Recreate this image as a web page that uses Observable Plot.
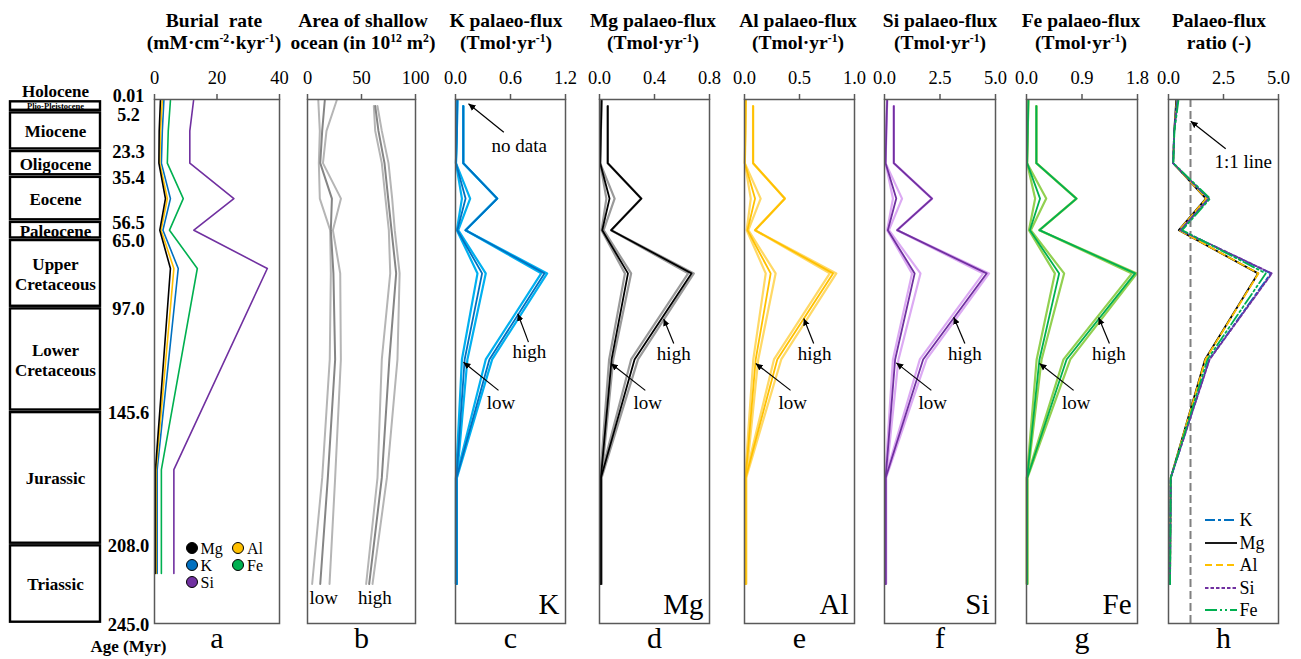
<!DOCTYPE html>
<html>
<head>
<meta charset="utf-8">
<script src="https://cdn.jsdelivr.net/npm/d3@7"></script>
<script src="https://cdn.jsdelivr.net/npm/@observablehq/plot@0.6"></script>
<style>
  body { margin: 0; background: #fff; }
  #chart { position: relative; width: 1301px; height: 659px; overflow: hidden; background: #fff;
           font-family: "Liberation Serif", Tinos, "DejaVu Serif", "Noto Serif", "Times New Roman", Times, serif; color: #000; }
  #chart > svg { position: absolute; top: 0; overflow: visible; }
  .title { position: absolute; top: 10px; width: 240px; text-align: center; font-weight: bold;
           font-size: 19.5px; line-height: 22px; white-space: nowrap; }
  .title sup { font-size: 0.6em; line-height: 0; vertical-align: 0.6em; }
  #legA { position: absolute; left: 185.5px; top: 539.5px; display: grid;
          grid-template-columns: 46.5px 46.5px; font-size: 16px; line-height: 17px; }
  #legA .it { display: flex; align-items: center; white-space: nowrap; height: 17px; }
  #legA .dot { display: inline-block; width: 10px; height: 10px; border-radius: 50%;
               border: 1px solid #000; margin-right: 3px; }
  #legH { position: absolute; left: 1204.5px; top: 509px; font-size: 18px; line-height: 22.5px; }
  #legH .it { display: flex; align-items: center; white-space: nowrap; height: 22.5px; }
  #legH svg { margin-right: 3px; }
</style>
</head>
<body>
<div id="chart"></div>
<script>
// ---------------- data ----------------
// geological time scale (Myr)
const epochNames = ["Plio-Pleistocene", "Miocene", "Oligocene", "Eocene", "Paleocene",
                    "Upper\nCretaceous", "Lower\nCretaceous", "Jurassic", "Triassic"];
const epochStart = [0.01, 5.2, 23.3, 35.4, 56.5, 65.0, 97.0, 145.6, 208.0];
const epochEnd   = [5.2, 23.3, 35.4, 56.5, 65.0, 97.0, 145.6, 208.0, 245.0];
const boundaryAges   = [0.01, 5.2, 23.3, 35.4, 56.5, 65.0, 97.0, 145.6, 208.0, 245.0];
const boundaryLabels = ["0.01", "5.2", "23.3", "35.4", "56.5", "65.0", "97.0", "145.6", "208.0", "245.0"];

// element series
const elements = ["K", "Mg", "Al", "Si", "Fe"];
const elementDark  = ["#0070C0", "#000000", "#FFC000", "#7030A0", "#00B050"];
const elementLight = ["#00B0F0", "#9a9a9a", "#FFD966", "#DCAAF3", "#92D050"];

// panel a: burial rate (mM cm-2 kyr-1)
const burialAges = [0.01, 14.25, 29.35, 45.95, 60.75, 78.7, 172.9, 221.6];
const burialMg = [1.9, 1.5, 1.4, 3.5, 1.7, 5.1, 0.3, 0.3];
const burialAl = [2.5, 1.9, 1.7, 4.1, 2.1, 6.2, 0.5, 0.5];
const burialK  = [3.0, 2.5, 2.2, 5.1, 2.7, 7.6, 0.85, 0.85];
const burialFe = [5.1, 4.4, 4.1, 9.2, 4.8, 13.7, 2.2, 2.2];
const burialSi = [12.5, 11.3, 11.3, 25.4, 12.6, 36.1, 6.2, 6.2];

// ages of the low / high scenario points (panels b-h)
const agesLow  = [0.01, 14.25, 29.35, 45.95, 60.75, 81.0, 121.3, 176.8, 226.5];
const agesHigh = [2.6, 14.25, 29.35, 45.95, 60.75, 81.0, 121.3, 176.8, 226.5];

// panel b: area of shallow ocean (10^12 m2)
const areaLowMin  = [10, 11.4, 10.5, 11.4, 21, 21.6, 20.6, 13.6, 4.3];
const areaLowMid  = [16, 13.6, 11.8, 22.6, 21.6, 24, 25.6, 18.8, 11.8];
const areaLowMax  = [27, 17.6, 14.3, 31, 23.5, 30.3, 30.9, 25.6, 20.4];
const areaHighMin = [61.4, 62.7, 68.8, 72.2, 75.3, 76.6, 68.8, 64.8, 54.3];
const areaHighMid = [62.7, 65.7, 71.3, 74.7, 77.8, 82.1, 75.8, 68.8, 57.1];
const areaHighMax = [64.8, 68.8, 75, 78.4, 80.8, 85.3, 83.3, 73.5, 60.2];

// panels c-g: palaeo-fluxes (Tmol yr-1)
const kLowMin  = [0.02, 0.015, 0.005, 0.07, 0.015, 0.24, 0.07, 0.005, 0.005];
const kLowMid  = [0.02, 0.015, 0.005, 0.11, 0.02, 0.29, 0.10, 0.01, 0.01];
const kLowMax  = [0.02, 0.015, 0.005, 0.16, 0.03, 0.33, 0.13, 0.015, 0.015];
const kHighMin = [0.085, 0.085, 0.085, 0.455, 0.11, 0.935, 0.33, 0.005, 0.005];
const kHighMid = [0.085, 0.085, 0.085, 0.455, 0.11, 0.97, 0.37, 0.01, 0.01];
const kHighMax = [0.085, 0.085, 0.085, 0.455, 0.11, 1.0, 0.40, 0.015, 0.015];

const mgLowMin  = [0.015, 0.01, 0.005, 0.05, 0.015, 0.185, 0.07, 0.005, 0.005];
const mgLowMid  = [0.015, 0.01, 0.005, 0.073, 0.02, 0.207, 0.088, 0.01, 0.01];
const mgLowMax  = [0.015, 0.01, 0.005, 0.11, 0.03, 0.23, 0.10, 0.015, 0.015];
const mgHighMin = [0.06, 0.06, 0.06, 0.304, 0.085, 0.645, 0.23, 0.005, 0.005];
const mgHighMid = [0.06, 0.06, 0.06, 0.304, 0.085, 0.669, 0.255, 0.01, 0.01];
const mgHighMax = [0.06, 0.06, 0.06, 0.304, 0.085, 0.686, 0.28, 0.015, 0.015];

const alLowMin  = [0.012, 0.008, 0.003, 0.057, 0.02, 0.193, 0.08, 0.005, 0.005];
const alLowMid  = [0.012, 0.008, 0.003, 0.096, 0.027, 0.238, 0.102, 0.01, 0.01];
const alLowMax  = [0.012, 0.008, 0.003, 0.147, 0.035, 0.283, 0.125, 0.015, 0.015];
const alHighMin = [0.078, 0.078, 0.078, 0.367, 0.096, 0.775, 0.268, 0.005, 0.005];
const alHighMid = [0.078, 0.078, 0.078, 0.367, 0.096, 0.805, 0.298, 0.01, 0.01];
const alHighMax = [0.078, 0.078, 0.078, 0.367, 0.096, 0.835, 0.334, 0.015, 0.015];

const siLowMin  = [0.12, 0.08, 0.05, 0.38, 0.12, 1.24, 0.38, 0.03, 0.03];
const siLowMid  = [0.12, 0.08, 0.05, 0.53, 0.15, 1.36, 0.48, 0.05, 0.05];
const siLowMax  = [0.12, 0.08, 0.05, 0.79, 0.20, 1.62, 0.63, 0.07, 0.07];
const siHighMin = [0.42, 0.42, 0.42, 2.14, 0.57, 4.45, 1.59, 0.03, 0.03];
const siHighMid = [0.42, 0.42, 0.42, 2.14, 0.57, 4.60, 1.74, 0.05, 0.05];
const siHighMax = [0.42, 0.42, 0.42, 2.14, 0.57, 4.71, 1.89, 0.07, 0.07];

const feLowMin  = [0.03, 0.02, 0.01, 0.14, 0.04, 0.46, 0.165, 0.005, 0.005];
const feLowMid  = [0.03, 0.02, 0.01, 0.22, 0.055, 0.53, 0.21, 0.01, 0.01];
const feLowMax  = [0.03, 0.02, 0.01, 0.32, 0.07, 0.61, 0.245, 0.015, 0.015];
const feHighMin = [0.16, 0.16, 0.16, 0.81, 0.21, 1.71, 0.60, 0.005, 0.005];
const feHighMid = [0.16, 0.16, 0.16, 0.81, 0.21, 1.76, 0.65, 0.01, 0.01];
const feHighMax = [0.16, 0.16, 0.16, 0.81, 0.21, 1.79, 0.71, 0.015, 0.015];

// panel h: palaeo-flux ratio (-)
const ratioK  = [0.40, 0.26, 0.21, 1.82, 0.55, 4.65, 1.85, 0.10, 0.07];
const ratioMg = [0.35, 0.26, 0.21, 1.70, 0.47, 4.07, 1.66, 0.10, 0.07];
const ratioAl = [0.38, 0.26, 0.21, 1.72, 0.48, 4.09, 1.68, 0.10, 0.07];
const ratioSi = [0.42, 0.26, 0.21, 1.84, 0.55, 4.70, 1.87, 0.10, 0.07];
const ratioFe = [0.45, 0.27, 0.22, 1.89, 0.62, 4.42, 1.77, 0.10, 0.07];
const ratioDash = ["10,3,3,3", null, "7,4", "3.5,2", "12,3,2,3,2,3"];

// tick labels
const ticksA = [0, 20, 40], ticksB = [0, 50, 100], ticksC = [0, 0.6, 1.2], ticksD = [0, 0.4, 0.8];
const ticksE = [0, 0.5, 1.0], ticksF = [0, 2.5, 5.0], ticksG = [0, 0.9, 1.8], ticksH = [0, 2.5, 5.0];

// annotations (value, age)
const annArrows = {
  c: [{x1: 0.527, y1: 14.85, x2: 0.142, y2: 1.55}, {x1: 0.796, y1: 113.2, x2: 0.68, y2: 99.9}, {x1: 0.469, y1: 135.8, x2: 0.087, y2: 122.6}],
  d: [{x1: 0.54, y1: 113.8, x2: 0.467, y2: 102.3}, {x1: 0.333, y1: 135.8, x2: 0.083, y2: 123.2}],
  e: [{x1: 0.629, y1: 113.8, x2: 0.539, y2: 102.1}, {x1: 0.419, y1: 135.8, x2: 0.102, y2: 123.2}],
  f: [{x1: 3.62, y1: 113.8, x2: 3.12, y2: 101.5}, {x1: 2.11, y1: 135.8, x2: 0.53, y2: 122.9}],
  g: [{x1: 1.345, y1: 113.8, x2: 1.17, y2: 101.7}, {x1: 0.764, y1: 135.8, x2: 0.211, y2: 123.2}],
  h: [{x1: 2.6, y1: 22.6, x2: 1.01, y2: 9.7}]
};
const annTexts = {
  b: [{x: 15, y: 232.8, t: "low"}, {x: 62.4, y: 232.8, t: "high"}],
  c: [{x: 0.695, y: 21.5, t: "no data"}, {x: 0.806, y: 117.6, t: "high"}, {x: 0.496, y: 141.5, t: "low"}],
  d: [{x: 0.54, y: 118.5, t: "high"}, {x: 0.35, y: 141.5, t: "low"}],
  e: [{x: 0.637, y: 118.5, t: "high"}, {x: 0.438, y: 141.5, t: "low"}],
  f: [{x: 3.62, y: 118.5, t: "high"}, {x: 2.17, y: 141.5, t: "low"}],
  g: [{x: 1.337, y: 118.5, t: "high"}, {x: 0.805, y: 141.5, t: "low"}],
  h: [{x: 3.4, y: 29, t: "1:1 line"}]
};

// ---------------- drawing ----------------
const chart = document.getElementById("chart");
const FONT = '"Liberation Serif", Tinos, "DejaVu Serif", "Noto Serif", "Times New Roman", Times, serif';
const Y = {domain: [0, 245], range: [100, 623], axis: null};
const M = 32;

function rows(ages, vals) { return ages.map((age, i) => ({age, v: vals[i]})); }

function filledArrow(color, context) {
  const ns = "http://www.w3.org/2000/svg";
  const doc = (context && context.document) || document;
  const m = doc.createElementNS(ns, "marker");
  m.setAttribute("viewBox", "-7 -4 8 8");
  m.setAttribute("markerWidth", 8);
  m.setAttribute("markerHeight", 8);
  m.setAttribute("markerUnits", "userSpaceOnUse");
  m.setAttribute("orient", "auto");
  m.setAttribute("refX", 0);
  m.setAttribute("refY", 0);
  const p = doc.createElementNS(ns, "path");
  p.setAttribute("d", "M-7,-3.3L0,0L-7,3.3Z");
  p.setAttribute("fill", "#000");
  p.setAttribute("stroke", "none");
  m.appendChild(p);
  return m;
}

function makePanel(left, width, domain, ticks, fmt, marks, letter) {
  const svg = Plot.plot({
    width: width + 2 * M, height: 659,
    marginLeft: M, marginRight: M, marginTop: 99, marginBottom: 36,
    x: {domain},
    y: Y,
    style: {background: "transparent", overflow: "visible", fontFamily: FONT, fontSize: "18.5px", color: "#000"},
    marks: [
      ...marks,
      Plot.frame({stroke: "#595959", strokeWidth: 1.5}),
      Plot.axisX({anchor: "top", ticks, tickFormat: fmt, tickSize: 6, tickPadding: 10, label: null,
                  stroke: "#595959", strokeWidth: 1.5, fill: "#000", fontSize: 18.5}),
      Plot.text([letter], {text: d => d, frameAnchor: "bottom", dy: 15, lineAnchor: "middle", fontSize: 30})
    ]
  });
  svg.style.left = (left - M) + "px";
  chart.appendChild(svg);
}

function bundleMarks(idx, lowMin, lowMid, lowMax, highMin, highMid, highMax) {
  const light = elementLight[idx], dark = elementDark[idx];
  return [
    Plot.line(rows(agesLow, lowMin), {x: "v", y: "age", stroke: light, strokeWidth: 2.2}),
    Plot.line(rows(agesLow, lowMax), {x: "v", y: "age", stroke: light, strokeWidth: 2.2}),
    Plot.line(rows(agesHigh, highMin), {x: "v", y: "age", stroke: light, strokeWidth: 2.2}),
    Plot.line(rows(agesHigh, highMax), {x: "v", y: "age", stroke: light, strokeWidth: 2.2}),
    Plot.line(rows(agesLow, lowMid), {x: "v", y: "age", stroke: dark, strokeWidth: 1.8}),
    Plot.line(rows(agesHigh, highMid), {x: "v", y: "age", stroke: dark, strokeWidth: 1.8}),
    Plot.text([elements[idx]], {text: d => d, frameAnchor: "bottom-right", dx: -6, dy: -10, fontSize: 29})
  ];
}

function annMarks(key) {
  const out = [];
  if (annArrows[key]) out.push(Plot.link(annArrows[key], {x1: "x1", y1: "y1", x2: "x2", y2: "y2",
    stroke: "#000", strokeWidth: 1.2, markerEnd: filledArrow}));
  if (annTexts[key]) out.push(Plot.text(annTexts[key], {x: "x", y: "y", text: "t", fontSize: 19, lineAnchor: "middle"}));
  return out;
}

// ---- time scale column ----
const epochs = epochNames.map((name, i) => ({name, start: epochStart[i], end: epochEnd[i], mid: (epochStart[i] + epochEnd[i]) / 2}));
const bounds = boundaryAges.map((age, i) => ({age, label: boundaryLabels[i]}));
const ts = Plot.plot({
  width: 170, height: 659, marginLeft: 10, marginRight: 70, marginTop: 99, marginBottom: 36,
  x: {domain: [0, 1], axis: null},
  y: Y,
  style: {background: "transparent", overflow: "visible", fontFamily: FONT, color: "#000"},
  marks: [
    Plot.rect(epochs, {x1: 0, x2: 1, y1: "start", y2: "end", fill: "white", stroke: "#000", strokeWidth: 2.4, insetTop: 1.3, insetBottom: 1.3}),
    Plot.text(epochs.slice(1), {x: 0.5, y: "mid", text: "name", fontWeight: "bold", fontSize: 17, lineHeight: 1.18, lineAnchor: "middle"}),
    Plot.text(epochs.slice(0, 1), {x: 0.5, y: "mid", text: "name", fontWeight: "bold", fontSize: 8.5, lineAnchor: "middle"}),
    Plot.text(["Holocene"], {text: d => d, x: 0.5, y: 0.01, dy: -9, fontWeight: "bold", fontSize: 17, lineAnchor: "middle"}),
    Plot.text(bounds.slice(0, 1), {x: 1, dx: 28, y: "age", dy: -4, text: "label", fontWeight: "bold", fontSize: 18, lineAnchor: "middle"}),
    Plot.text(bounds.slice(1, 2), {x: 1, dx: 28, y: "age", dy: 4, text: "label", fontWeight: "bold", fontSize: 18, lineAnchor: "middle"}),
    Plot.text(bounds.slice(2), {x: 1, dx: 28, y: "age", dy: 2, text: "label", fontWeight: "bold", fontSize: 18.5, lineAnchor: "middle"}),
    Plot.text(["Age (Myr)"], {text: d => d, x: 1, dx: 28, y: 245, dy: 23, fontWeight: "bold", fontSize: 17, lineAnchor: "middle"})
  ]
});
ts.style.left = "0px";
chart.appendChild(ts);

// ---- panel a ----
const burialSeries = [["Si", burialSi], ["Fe", burialFe], ["K", burialK], ["Al", burialAl], ["Mg", burialMg]];
makePanel(154, 125, [0, 40], ticksA, d3.format("d"),
  burialSeries.map(([el, vals]) => Plot.line(rows(burialAges, vals),
    {x: "v", y: "age", stroke: elementDark[elements.indexOf(el)], strokeWidth: 1.6})), "a");

// ---- panel b ----
makePanel(307, 108, [0, 100], ticksB, d3.format("d"), [
  ...[areaLowMin, areaLowMax].map(v => Plot.line(rows(agesLow, v), {x: "v", y: "age", stroke: "#b5b5b5", strokeWidth: 2})),
  ...[areaHighMin, areaHighMax].map(v => Plot.line(rows(agesHigh, v), {x: "v", y: "age", stroke: "#b5b5b5", strokeWidth: 2})),
  Plot.line(rows(agesLow, areaLowMid), {x: "v", y: "age", stroke: "#858585", strokeWidth: 2}),
  Plot.line(rows(agesHigh, areaHighMid), {x: "v", y: "age", stroke: "#858585", strokeWidth: 2}),
  ...annMarks("b")
], "b");

// ---- panels c-g ----
const f1 = d3.format(".1f");
makePanel(455, 110, [0, 1.2], ticksC, f1, [...bundleMarks(0, kLowMin, kLowMid, kLowMax, kHighMin, kHighMid, kHighMax), ...annMarks("c")], "c");
makePanel(599, 110, [0, 0.8], ticksD, f1, [...bundleMarks(1, mgLowMin, mgLowMid, mgLowMax, mgHighMin, mgHighMid, mgHighMax), ...annMarks("d")], "d");
makePanel(744, 110, [0, 1.0], ticksE, f1, [...bundleMarks(2, alLowMin, alLowMid, alLowMax, alHighMin, alHighMid, alHighMax), ...annMarks("e")], "e");
makePanel(884, 111, [0, 5.0], ticksF, f1, [...bundleMarks(3, siLowMin, siLowMid, siLowMax, siHighMin, siHighMid, siHighMax), ...annMarks("f")], "f");
makePanel(1026, 111, [0, 1.8], ticksG, f1, [...bundleMarks(4, feLowMin, feLowMid, feLowMax, feHighMin, feHighMid, feHighMax), ...annMarks("g")], "g");

// ---- panel h ----
const ratioOrder = [["Mg", ratioMg], ["Al", ratioAl], ["K", ratioK], ["Si", ratioSi], ["Fe", ratioFe]];
makePanel(1168, 110, [0, 5.0], ticksH, f1, [
  Plot.ruleX([1], {stroke: "#808080", strokeWidth: 2, strokeDasharray: "8,4"}),
  ...ratioOrder.map(([el, vals]) => {
    const i = elements.indexOf(el);
    return Plot.line(rows(agesLow, vals), {x: "v", y: "age", stroke: elementDark[i], strokeWidth: 1.8,
      strokeDasharray: ratioDash[i] || "none"});
  }),
  ...annMarks("h")
], "h");

// ---- titles ----
const titles = [
  [214, "Burial&nbsp; rate<br>(mM·cm<sup>-2</sup>·kyr<sup>-1</sup>)"],
  [363, "Area of shallow<br>ocean (in 10<sup>12</sup> m<sup>2</sup>)"],
  [506, "K palaeo-flux<br>(Tmol·yr<sup>-1</sup>)"],
  [653, "Mg palaeo-flux<br>(Tmol·yr<sup>-1</sup>)"],
  [798, "Al palaeo-flux<br>(Tmol·yr<sup>-1</sup>)"],
  [940, "Si palaeo-flux<br>(Tmol·yr<sup>-1</sup>)"],
  [1081, "Fe palaeo-flux<br>(Tmol·yr<sup>-1</sup>)"],
  [1219, "Palaeo-flux<br>ratio (-)"]
];
for (const [cx, html] of titles) {
  const d = document.createElement("div");
  d.className = "title";
  d.style.left = (cx - 120) + "px";
  d.innerHTML = html;
  chart.appendChild(d);
}

// ---- legend a ----
const legAOrder = ["Mg", "Al", "K", "Fe", "Si"];
const legA = document.createElement("div");
legA.id = "legA";
for (const el of legAOrder) {
  const it = document.createElement("div");
  it.className = "it";
  it.innerHTML = `<span class="dot" style="background:${elementDark[elements.indexOf(el)]}"></span>${el}`;
  legA.appendChild(it);
}
chart.appendChild(legA);

// ---- legend h ----
const legH = document.createElement("div");
legH.id = "legH";
for (let i = 0; i < elements.length; i++) {
  const it = document.createElement("div");
  it.className = "it";
  it.innerHTML = `<svg width="32" height="10"><line x1="0" y1="5" x2="32" y2="5" stroke="${elementDark[i]}" stroke-width="1.8" stroke-dasharray="${ratioDash[i] || "none"}"/></svg>${elements[i]}`;
  legH.appendChild(it);
}
chart.appendChild(legH);
</script>
</body>
</html>
